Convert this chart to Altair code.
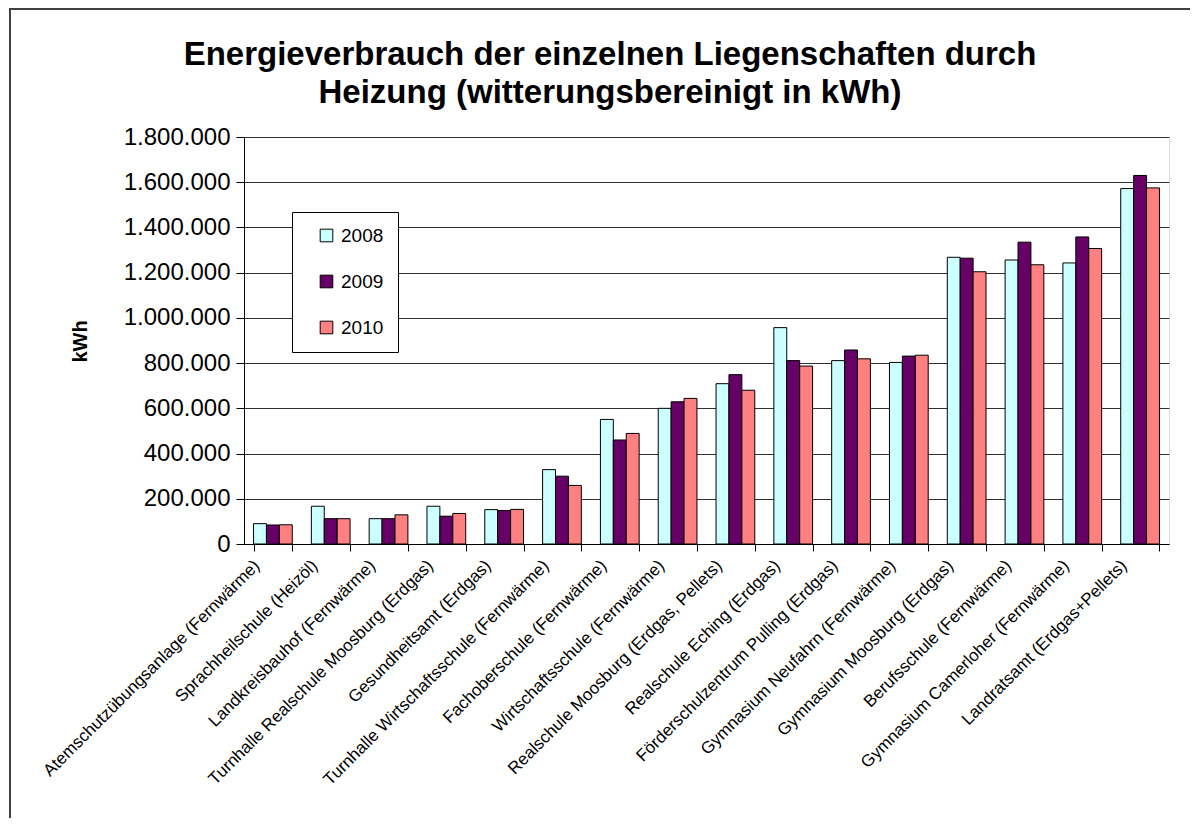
import altair as alt
import pandas as pd

categories = [
    "Atemschutzübungsanlage (Fernwärme)",
    "Sprachheilschule (Heizöl)",
    "Landkreisbauhof (Fernwärme)",
    "Turnhalle Realschule Moosburg (Erdgas)",
    "Gesundheitsamt (Erdgas)",
    "Turnhalle Wirtschaftsschule (Fernwärme)",
    "Fachoberschule (Fernwärme)",
    "Wirtschaftsschule (Fernwärme)",
    "Realschule Moosburg (Erdgas, Pellets)",
    "Realschule Eching (Erdgas)",
    "Förderschulzentrum Pulling (Erdgas)",
    "Gymnasium Neufahrn (Fernwärme)",
    "Gymnasium Moosburg (Erdgas)",
    "Berufsschule (Fernwärme)",
    "Gymnasium Camerloher (Fernwärme)",
    "Landratsamt (Erdgas+Pellets)",
]
years = ["2008", "2009", "2010"]
v2008 = [90000, 167000, 112000, 167000, 152000, 329000, 551000, 600000,
         709000, 957000, 811000, 803000, 1268000, 1256000, 1243000, 1572000]
v2009 = [84000, 112000, 112000, 123000, 148000, 300000, 460000, 629000,
         749000, 811000, 858000, 831000, 1264000, 1335000, 1358000, 1630000]
v2010 = [85000, 112000, 129000, 135000, 153000, 259000, 489000, 644000,
         680000, 787000, 819000, 835000, 1204000, 1235000, 1307000, 1575000]
colors = ["#CCFFFF", "#660066", "#FF8080"]
y_ticks = [0, 200000, 400000, 600000, 800000, 1000000, 1200000, 1400000, 1600000, 1800000]
title_lines = ["Energieverbrauch der einzelnen Liegenschaften durch",
               "Heizung (witterungsbereinigt in kWh)"]

rows = []
for yr, vals in zip(years, [v2008, v2009, v2010]):
    for c, v in zip(categories, vals):
        rows.append({"Liegenschaft": c, "Jahr": yr, "kWh": v})
df = pd.DataFrame(rows)

FONT = "Liberation Sans"
W, H = 925, 407

bars = alt.Chart(df).mark_bar(stroke="black", strokeWidth=1).encode(
    x=alt.X(
        "Liegenschaft:N",
        sort=categories,
        title=None,
        scale=alt.Scale(paddingInner=0.33, paddingOuter=0.165),
        axis=alt.Axis(
            labelAngle=-45,
            labelAlign="right",
            labelBaseline="top",
            labelFont=FONT,
            labelFontSize=17,
            labelColor="black",
            labelPadding=6,
            labelOffset=-22,
            labelLimit=500,
            tickBand="extent",
            tickColor="black",
            tickSize=7,
            domainColor="black",
            grid=False,
        ),
    ),
    xOffset=alt.XOffset("Jahr:N", sort=years, scale=alt.Scale(paddingInner=0, paddingOuter=0)),
    y=alt.Y(
        "kWh:Q",
        scale=alt.Scale(domain=[0, 1800000], nice=False),
        axis=alt.Axis(
            values=y_ticks,
            labelExpr="replace(replace(format(datum.value, ','), ',', '.'), ',', '.')",
            labelFont=FONT,
            labelFontSize=24,
            labelColor="black",
            labelPadding=6,
            tickColor="black",
            tickSize=8,
            domainColor="black",
            gridColor="#303030",
            gridWidth=1,
            title="kWh",
            titleFont=FONT,
            titleFontSize=20,
            titleFontWeight="bold",
            titleColor="black",
            titleAngle=270,
            titleAlign="center",
            titleBaseline="middle",
            titleX=-164,
            titleY=204,
        ),
    ),
    color=alt.Color(
        "Jahr:N",
        sort=years,
        scale=alt.Scale(domain=years, range=colors),
        legend=alt.Legend(
            title=None,
            orient="none",
            legendX=48,
            legendY=75,
            strokeColor="black",
            fillColor="white",
            padding=14,
            rowPadding=26,
            symbolType="square",
            symbolSize=160,
            symbolStrokeColor="black",
            symbolStrokeWidth=1,
            symbolOffset=11,
            labelFont=FONT,
            labelFontSize=19,
            labelColor="black",
            labelOffset=5,
        ),
    ),
)

one = pd.DataFrame({"a": [0]})

border_left = alt.Chart(one).mark_rule(color="#404040", strokeWidth=2).encode(
    x=alt.value(-234), y=alt.value(-128), y2=alt.value(700)
)
border_top = alt.Chart(one).mark_rule(color="#404040", strokeWidth=2).encode(
    x=alt.value(-235), x2=alt.value(960), y=alt.value(-128)
)

title1 = alt.Chart(one).mark_text(
    font=FONT, fontSize=33, fontWeight="bold", color="black",
    align="center", baseline="alphabetic",
).encode(text=alt.value(title_lines[0]), x=alt.value(366), y=alt.value(-72))

title2 = alt.Chart(one).mark_text(
    font=FONT, fontSize=33, fontWeight="bold", color="black",
    align="center", baseline="alphabetic",
).encode(text=alt.value(title_lines[1]), x=alt.value(366), y=alt.value(-34))

chart = alt.layer(bars, border_left, border_top, title1, title2).properties(
    width=W,
    height=H,
    autosize=alt.AutoSizeParams(type="none"),
    padding={"left": 236, "top": 129, "right": 21, "bottom": 274},
).configure_view(strokeWidth=0).configure(background="white")

chart.save("out.html", embed_options={"renderer": "svg", "actions": False})
